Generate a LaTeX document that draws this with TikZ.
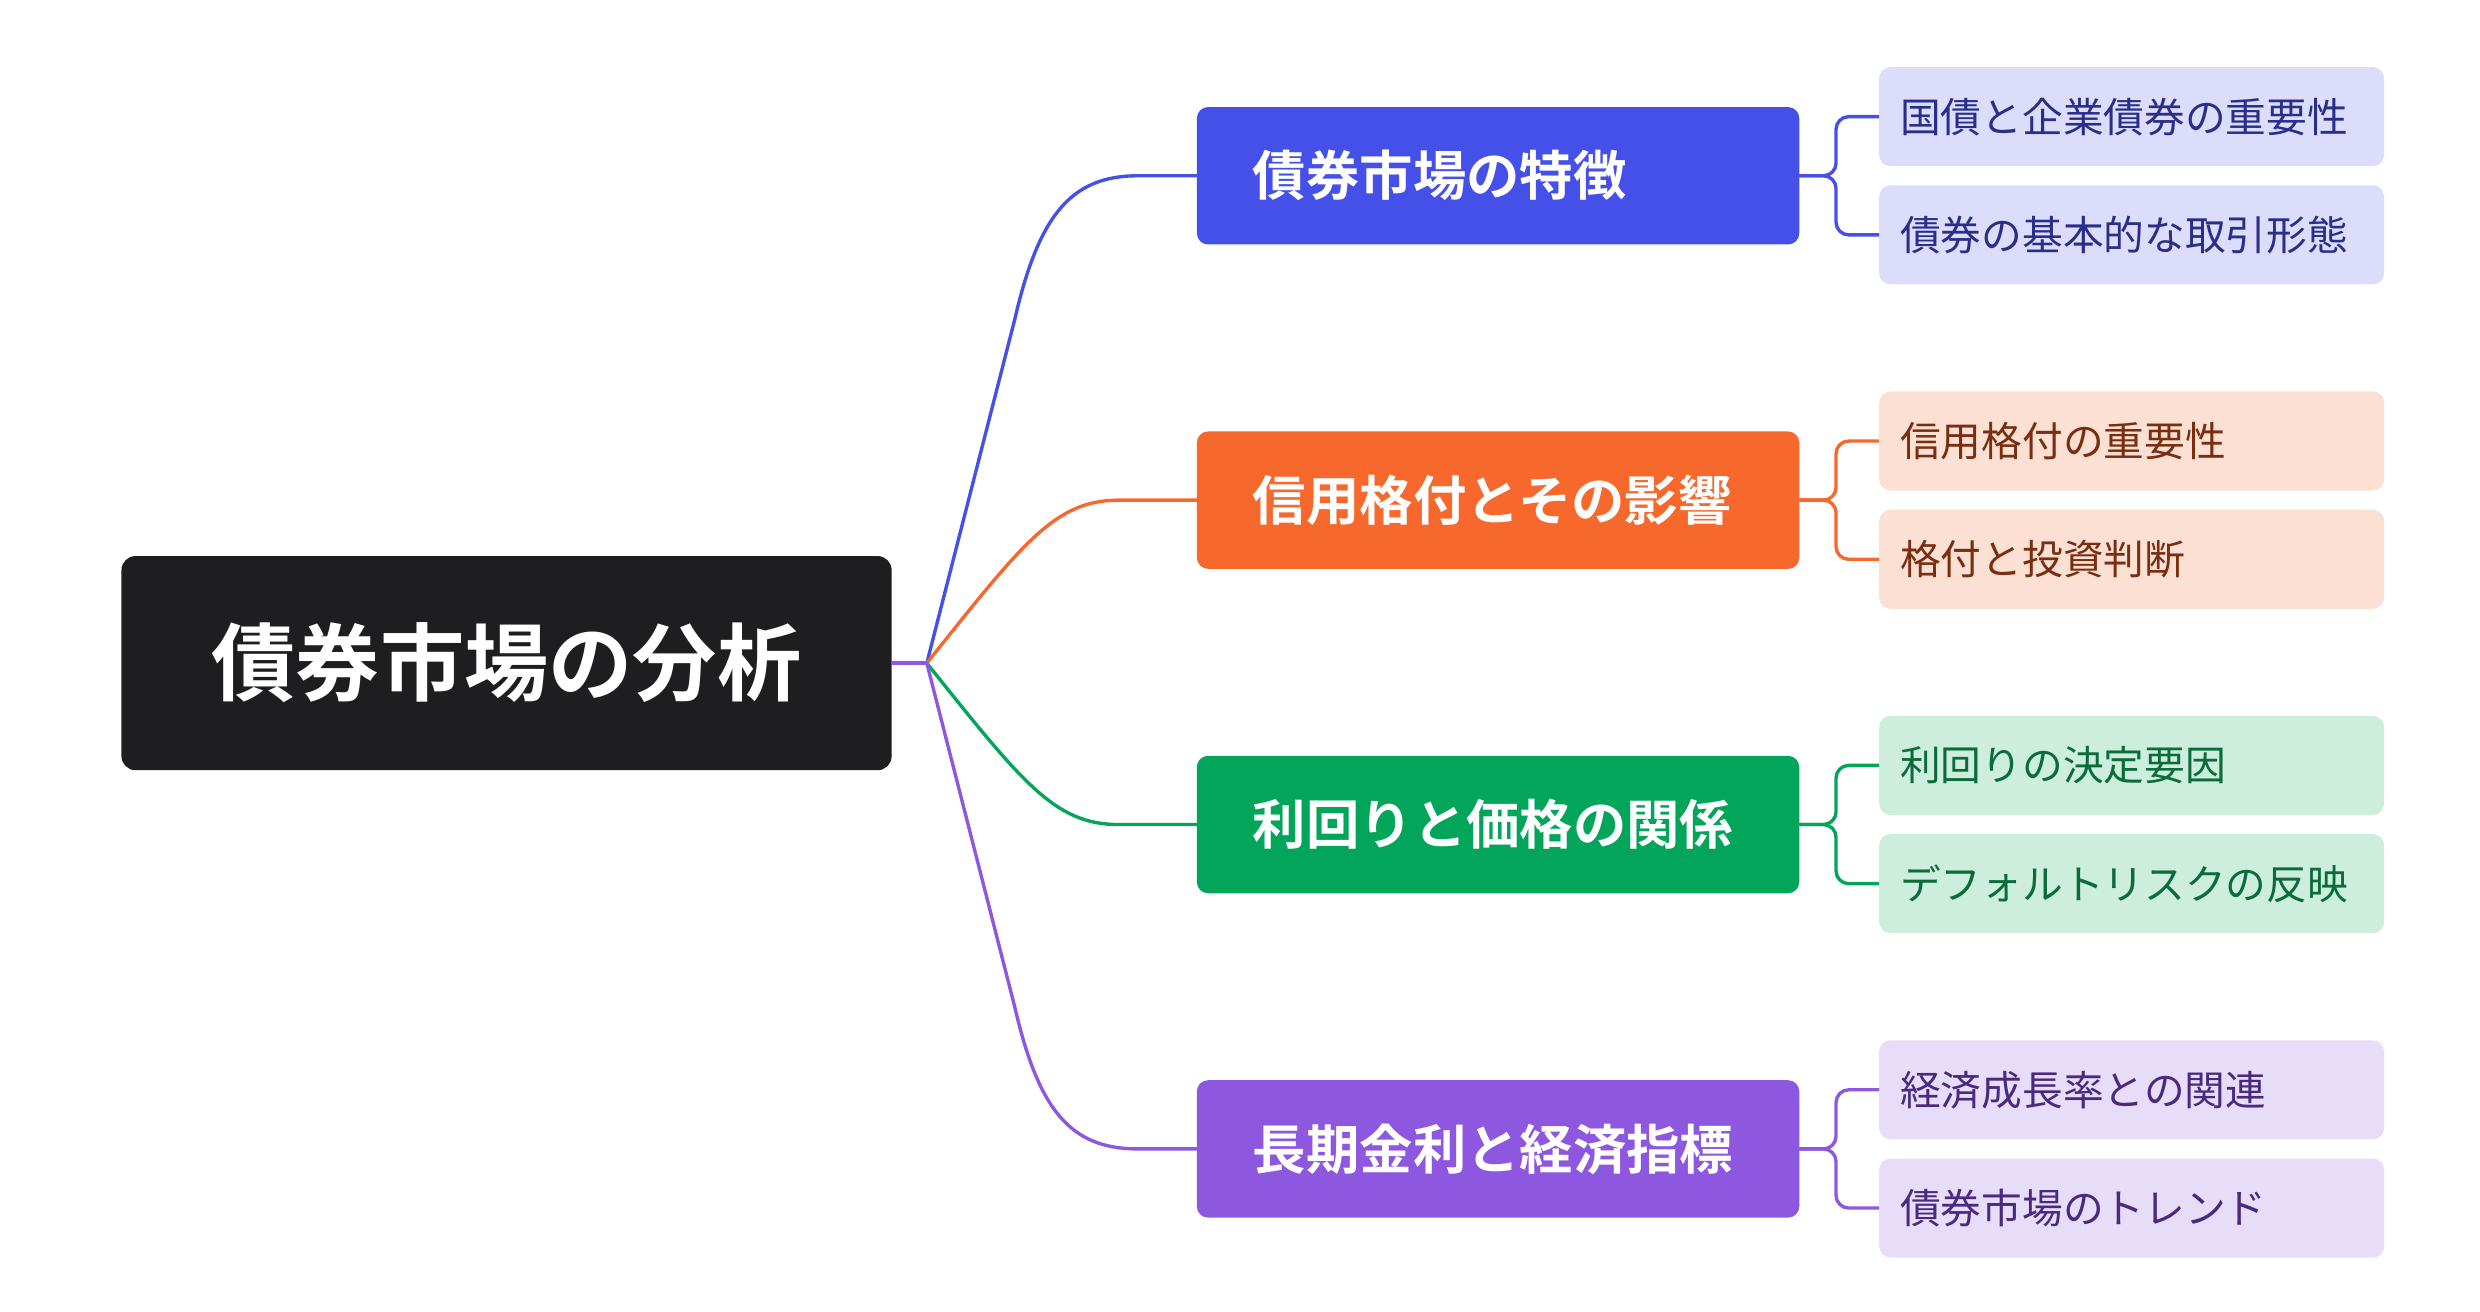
\documentclass[tikz,border=0pt]{standalone}
\usepackage{fontspec}
\newfontfamily\cjk{Noto Sans CJK JP}
\newfontfamily\cjkb{Noto Sans CJK JP Bold}
\begin{document}
\begin{tikzpicture}[x=0.04cm,y=-0.04cm,
 con/.style={line width=2.4pt}]
\definecolor{rootc}{HTML}{1E1E20}
\definecolor{cb}{HTML}{4550E8}\definecolor{lb}{HTML}{DCDDFA}\definecolor{tb}{HTML}{2A2E8A}
\definecolor{co}{HTML}{F6682C}\definecolor{lo}{HTML}{FCE0D3}\definecolor{to}{HTML}{7A2E10}
\definecolor{cg}{HTML}{03A55A}\definecolor{lg}{HTML}{CDEEDD}\definecolor{tg}{HTML}{0A6B3C}
\definecolor{cp}{HTML}{8E57E0}\definecolor{lp}{HTML}{E8DDF8}\definecolor{tp}{HTML}{4A2A80}
\useasboundingbox (0,0) rectangle (1552,821);
\fill[rootc,rounded corners=10pt] (76,348) rectangle (558,482);
\node[text=white,font=\cjkb\fontsize{60}{60}\selectfont] (root) at (317,415) {債券市場の分析};
\coordinate (r) at (558,415);
\coordinate (h) at (580,415);
\coordinate (b1in) at (749,110);
\coordinate (b2in) at (749,313);
\coordinate (b3in) at (749,516);
\coordinate (b4in) at (749,719);
% branches
\foreach \y/\c/\t/\n in {110/cb/債券市場の特徴/b1,313/co/信用格付とその影響/b2,516/cg/利回りと価格の関係/b3,719/cp/長期金利と経済指標/b4}{
 \fill[\c,rounded corners=8pt] (749,\y-43) rectangle (1126,\y+43);
 \node[text=white,font=\cjkb\fontsize{38}{38}\selectfont,anchor=west] (\n) at (781,\y) {\t};
}
\draw[con,cb] (h) -- (635,200) .. controls (650,135) and (670,110) .. (712,110) -- (b1in);
\draw[con,co] (h) .. controls (640,340) and (660,313) .. (700,313) -- (b2in);
\draw[con,cg] (h) .. controls (640,490) and (660,516) .. (700,516) -- (b3in);
\draw[con,cp] (h) -- (635,630) .. controls (650,695) and (670,719) .. (712,719) -- (b4in);
\draw[con,cp] (r) -- (h);
% leaves
\foreach \y/\bc/\lc/\tc/\t/\n/\p in {
 73/cb/lb/tb/国債と企業債券の重要性/l1/110,147/cb/lb/tb/債券の基本的な取引形態/l2/110,
 276/co/lo/to/信用格付の重要性/l3/313,350/co/lo/to/格付と投資判断/l4/313,
 479/cg/lg/tg/利回りの決定要因/l5/516,553/cg/lg/tg/デフォルトリスクの反映/l6/516,
 682/cp/lp/tp/経済成長率との関連/l7/719,756/cp/lp/tp/債券市場のトレンド/l8/719}{
 \fill[\lc,rounded corners=8pt] (1176,\y-31) rectangle (1492,\y+31);
 \node[text=\tc,font=\cjk\fontsize{29}{29}\selectfont,anchor=west] (\n) at (1186,\y) {\t};
 \draw[con,\bc,rounded corners=9pt] (1126,\p) -- (1149,\p) -- (1149,\y) -- (1176,\y);
}
\end{tikzpicture}
\end{document}
